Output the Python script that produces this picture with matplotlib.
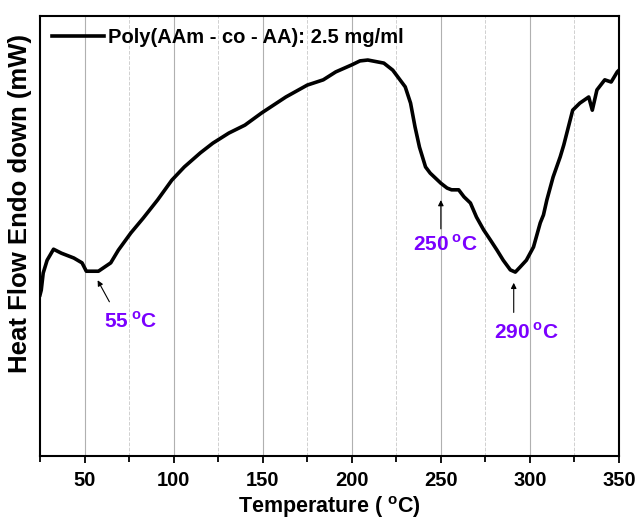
import matplotlib
matplotlib.use("Agg")
import matplotlib.pyplot as plt
from matplotlib.ticker import MultipleLocator, NullLocator

plt.rcParams['font.family'] = ['Liberation Sans', 'DejaVu Sans']
plt.rcParams['font.weight'] = 'bold'
plt.rcParams['mathtext.fontset'] = 'custom'
plt.rcParams['mathtext.rm'] = 'Liberation Sans:bold'
plt.rcParams['mathtext.bf'] = 'Liberation Sans:bold'

# DSC trace (heat flow in arbitrary units)
temperature = [25.0, 25.7, 26.8, 29.0, 32.6, 37.0, 44.0, 48.6, 51.0, 57.8, 64.7, 69.0,
               76.0, 83.0, 91.0, 99.0, 106.0, 115.0, 122.0, 131.0, 140.0, 149.5,
               163.0, 175.0, 184.0, 191.0, 200.0, 204.6, 209.0, 218.0, 223.0, 230.0,
               233.0, 235.5, 238.0, 241.4, 244.0, 250.0, 253.5, 256.0, 260.0, 263.0,
               266.6, 270.0, 274.0, 277.8, 281.5, 285.0, 289.0, 291.8, 294.6, 298.0,
               302.0, 305.8, 307.6, 309.5, 313.0, 317.0, 319.0, 324.0, 328.0, 333.0,
               335.0, 337.6, 342.0, 345.6, 349.0, 350.0]
heat_flow = [3.66, 3.77, 4.16, 4.45, 4.70, 4.61, 4.50, 4.39, 4.20, 4.20, 4.39, 4.68,
             5.07, 5.41, 5.82, 6.27, 6.57, 6.89, 7.11, 7.34, 7.52, 7.80,
             8.16, 8.43, 8.55, 8.73, 8.89, 8.98, 9.00, 8.93, 8.77, 8.39,
             8.02, 7.48, 7.02, 6.57, 6.43, 6.20, 6.09, 6.05, 6.05, 5.89,
             5.75, 5.43, 5.14, 4.91, 4.68, 4.45, 4.23, 4.18, 4.30, 4.45,
             4.75, 5.30, 5.48, 5.82, 6.34, 6.80, 7.07, 7.86, 8.02, 8.16,
             7.86, 8.32, 8.55, 8.50, 8.73, 8.77]

series_label = 'Poly(AAm - co - AA): 2.5 mg/ml'

# peak annotations: label, arrow tip, text position
peak_labels = [r'55$\,^{\mathbf{o}}$C', r'250$\,^{\mathbf{o}}$C', r'290$\,^{\mathbf{o}}$C']
peak_tips = [(56.6, 4.05), (250.0, 5.88), (290.9, 4.0)]
peak_texts = [(76.0, 3.05), (252.8, 4.82), (297.8, 2.82)]
peak_tails = [(64.7, 3.45), (250.0, 5.1), (290.9, 3.2)]

fig = plt.figure(figsize=(6.41, 5.22), dpi=100)
ax = fig.add_axes([0.0624, 0.1264, 0.9033, 0.8429])

ax.plot(temperature, heat_flow, color='black', lw=2.6, label=series_label)

for lab, tip, txt, tail in zip(peak_labels, peak_tips, peak_texts, peak_tails):
    ax.annotate('', xy=tip, xytext=tail,
                arrowprops=dict(arrowstyle='-|>', color='black', lw=0.8,
                                mutation_scale=8))
    ax.text(txt[0], txt[1], lab, color='#7a00ff', fontsize=15, fontweight='bold',
            ha='center', va='center')

ax.set_xlim(25, 350)
ax.set_ylim(0, 10)
ax.xaxis.set_major_locator(MultipleLocator(50))
ax.xaxis.set_minor_locator(MultipleLocator(25))
ax.yaxis.set_major_locator(NullLocator())
ax.grid(True, which='major', axis='x', color='#b0b0b0', lw=0.8)
ax.grid(True, which='minor', axis='x', color='#d0d0d0', lw=0.7, ls='--')
ax.tick_params(axis='x', which='both', direction='out', width=1.3)
ax.tick_params(axis='x', which='major', length=5, labelsize=14.5, pad=6)
ax.tick_params(axis='x', which='minor', length=4)
for s in ax.spines.values():
    s.set_linewidth(1.5)

ax.set_xlabel(r'Temperature ( $^{\mathbf{o}}$C)', fontsize=15.5, fontweight='bold', labelpad=3)
ax.set_ylabel('Heat Flow Endo down (mW)', fontsize=18.5, fontweight='bold')
ax.yaxis.set_label_coords(-0.014, 0.575)

ax.legend(loc='upper left', frameon=False, handlelength=2.6,
          borderaxespad=0.2, handletextpad=0.2, prop={'weight': 'bold', 'size': 14.5})

fig.savefig('out.png', dpi=100)
